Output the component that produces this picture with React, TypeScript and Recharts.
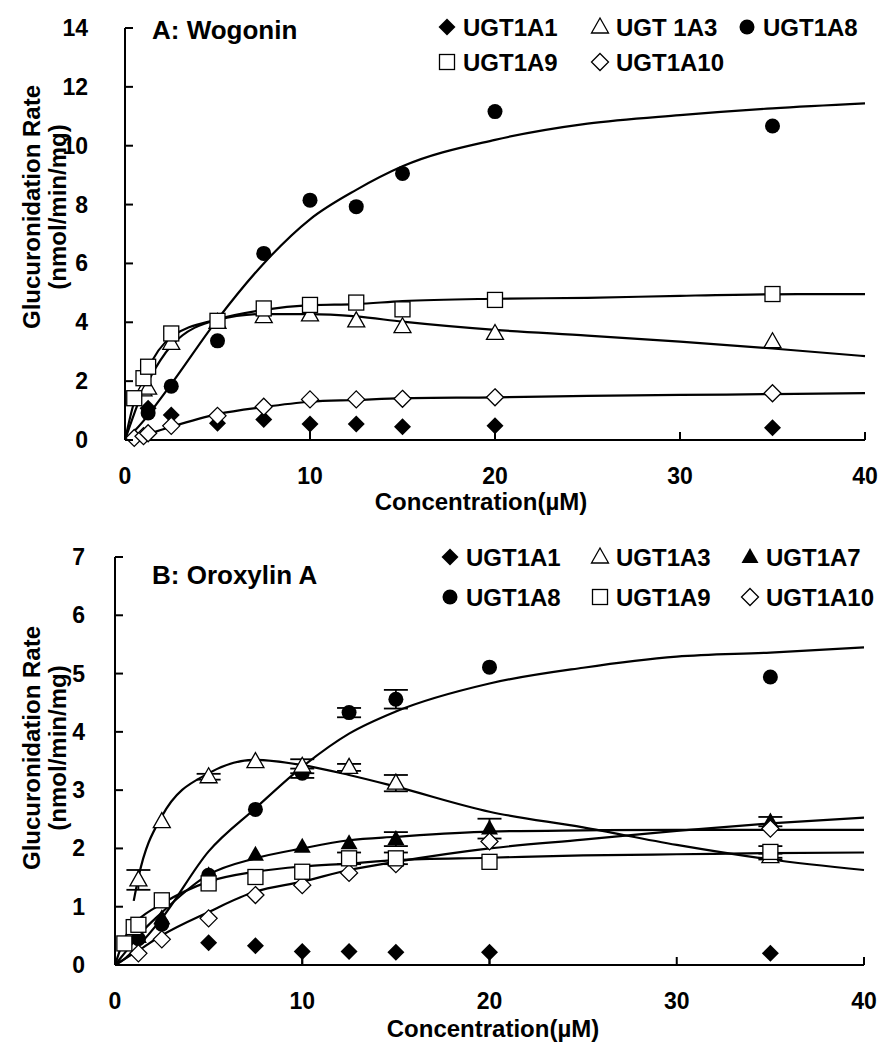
import { ComposedChart, Line, Scatter, XAxis, YAxis, ErrorBar } from 'recharts'

const FONT = '"Liberation Sans", Arial, Helvetica, sans-serif'

// concentrations (µM) of the measured points and of the fitted curves
const conc = [0.5, 1, 1.25, 2.5, 5, 7.5, 10, 12.5, 15, 20, 35]
const fitConc = [0, 0.5, 1, 1.25, 2.5, 5, 7.5, 10, 12.5, 15, 20, 25, 30, 35, 40]
const xTicks = [0, 10, 20, 30, 40]

type Err = number | [number, number] | null

// A: Wogonin
const wogTicks = [0, 2, 4, 6, 8, 10, 12, 14]
const wog1A1 = [null, null, 1.08, 0.85, 0.57, 0.7, 0.54, 0.54, 0.45, 0.48, 0.42]
const wog1A1Err: Err[] = [null, null, null, null, null, null, [0.54, 0], null, null, [0.48, 0], null]
const wog1A3 = [null, 1.7, 1.76, 3.28, 4.0, 4.19, 4.25, 4.05, 3.85, 3.62, 3.34]
const wog1A3Fit = [0, 0.9, 1.7, 2.0, 3.2, 4.08, 4.28, 4.28, 4.2, 4.02, 3.74, 3.55, 3.34, 3.11, 2.85]
const wog1A8 = [null, null, 0.92, 1.83, 3.37, 6.34, 8.15, 7.93, 9.06, 11.16, 10.67]
const wog1A8Fit = [0, 0.3, 0.65, 0.85, 1.9, 4.1, 6.0, 7.5, 8.5, 9.3, 10.2, 10.75, 11.04, 11.27, 11.44]
const wog1A9 = [1.42, 2.1, 2.49, 3.62, 4.05, 4.47, 4.59, 4.67, 4.44, 4.76, 4.96]
const wog1A9Fit = [0, 1.3, 2.0, 2.4, 3.5, 4.1, 4.42, 4.58, 4.62, 4.72, 4.8, 4.83, 4.9, 4.95, 4.96]
const wog1A10 = [0.07, 0.13, 0.23, 0.48, 0.82, 1.13, 1.38, 1.38, 1.4, 1.45, 1.59]
const wog1A10Fit = [0, 0.08, 0.15, 0.2, 0.45, 0.88, 1.12, 1.3, 1.36, 1.42, 1.45, 1.5, 1.53, 1.56, 1.59]

// B: Oroxylin A
const oroTicks = [0, 1, 2, 3, 4, 5, 6, 7]
const oro1A1 = [null, null, null, null, 0.38, 0.33, 0.23, 0.23, 0.22, 0.22, 0.2]
const oro1A1Err: Err[] = [null, null, null, null, null, null, [0.23, 0], null, null, [0.22, 0], null]
const oro1A3 = [null, null, 1.46, 2.46, 3.23, 3.49, 3.41, 3.39, 3.12, null, 1.86]
const oro1A3Err: Err[] = [null, null, 0.17, null, 0.05, null, 0.12, 0.06, 0.14, null, 0.05]
const oro1A3Fit = [null, null, 1.1, 1.5, 2.55, 3.29, 3.52, 3.43, 3.26, 3.06, 2.63, 2.36, 2.06, 1.81, 1.63]
const oro1A7 = [null, null, 0.48, 0.8, 1.54, 1.89, 2.03, 2.09, 2.16, 2.34, 2.46]
const oro1A7Err: Err[] = [null, null, null, null, null, null, null, null, 0.12, 0.17, 0.08]
const oro1A7Fit = [0, 0.2, 0.4, 0.5, 0.9, 1.55, 1.83, 2.0, 2.14, 2.2, 2.29, 2.31, 2.32, 2.32, 2.32]
const oro1A8 = [null, null, 0.45, 0.7, 1.54, 2.67, 3.29, 4.33, 4.56, 5.11, 4.94]
const oro1A8Err: Err[] = [null, null, null, null, null, null, 0.08, 0.08, 0.16, null, null]
const oro1A8Fit = [0, 0.1, 0.25, 0.33, 0.8, 1.95, 2.69, 3.4, 3.97, 4.35, 4.83, 5.1, 5.29, 5.36, 5.45]
const oro1A9 = [0.37, 0.65, 0.69, 1.11, 1.4, 1.51, 1.6, 1.83, 1.83, 1.77, 1.94]
const oro1A9Err: Err[] = [null, null, null, null, null, null, null, 0.1, 0.1, null, 0.1]
const oro1A9Fit = [0, 0.45, 0.7, 0.78, 1.05, 1.43, 1.6, 1.69, 1.74, 1.8, 1.84, 1.88, 1.9, 1.92, 1.93]
const oro1A10 = [null, null, 0.2, 0.44, 0.8, 1.2, 1.37, 1.58, 1.73, 2.12, 2.34]
const oro1A10Fit = [0, 0.1, 0.2, 0.25, 0.51, 0.91, 1.26, 1.43, 1.63, 1.77, 2.0, 2.15, 2.3, 2.43, 2.53]

type Kind = 'diamondFilled' | 'diamond' | 'triangle' | 'triangleFilled' | 'circle' | 'square'

const toPoints = (xs: number[], ys: (number | null)[], errs?: Err[]) =>
  xs
    .map((x, i) => ({ x, y: ys[i], err: errs ? errs[i] : null }))
    .filter((p) => p.y != null)

function Mark({ kind, cx, cy }: { kind: Kind; cx: number; cy: number }) {
  if (cx == null || cy == null) return null
  const sw = 1.3
  const d = 8.5
  switch (kind) {
    case 'diamondFilled':
      return <polygon points={`${cx},${cy - d} ${cx + d},${cy} ${cx},${cy + d} ${cx - d},${cy}`} fill="#000" />
    case 'diamond':
      return (
        <polygon points={`${cx},${cy - d} ${cx + d},${cy} ${cx},${cy + d} ${cx - d},${cy}`} fill="#fff" stroke="#000" strokeWidth={sw} />
      )
    case 'triangle':
      return <polygon points={`${cx},${cy - 9} ${cx + 8.5},${cy + 6} ${cx - 8.5},${cy + 6}`} fill="#fff" stroke="#000" strokeWidth={sw} />
    case 'triangleFilled':
      return <polygon points={`${cx},${cy - 9} ${cx + 8.5},${cy + 6} ${cx - 8.5},${cy + 6}`} fill="#000" />
    case 'circle':
      return <circle cx={cx} cy={cy} r={7.5} fill="#000" />
    default:
      return <rect x={cx - 7.5} y={cy - 7.5} width={15} height={15} fill="#fff" stroke="#000" strokeWidth={sw} />
  }
}

const XTick = (p: any) => (
  <g>
    <line x1={p.x} x2={p.x} y1={p.y} y2={p.y - 8} stroke="#000" strokeWidth={2} />
    <text x={p.x} y={p.y + 36} textAnchor="middle" dominantBaseline="central" fontFamily={FONT} fontWeight="bold" fontSize={23} fill="#000">
      {p.payload.value}
    </text>
  </g>
)

const YTick = (p: any) => (
  <g>
    <line x1={p.x} x2={p.x + 8} y1={p.y} y2={p.y} stroke="#000" strokeWidth={2} />
    <text x={p.x - p.gap} y={p.y} textAnchor="end" dominantBaseline="central" fontFamily={FONT} fontWeight="bold" fontSize={23} fill="#000">
      {p.payload.value}
    </text>
  </g>
)

type Series = { name: string; kind: Kind; values: (number | null)[]; errs?: Err[]; cap?: number; fit?: (number | null)[] }
type LegendItem = { name: string; kind: Kind; x: number; y: number }

function Panel(props: {
  height: number
  margin: { top: number; right: number; bottom: number; left: number }
  yMax: number
  yTicks: number[]
  yGap: number
  series: Series[]
  title: string
  titleY: number
  legend: LegendItem[]
  xTitleX: number
  xTitleY: number
  yTitleY: number
}) {
  const { height, margin, yMax, yTicks, yGap, series, title, titleY, legend, xTitleX, xTitleY, yTitleY } = props
  const txt = { fontFamily: FONT, fontWeight: 'bold' as const, fill: '#000' }
  return (
    <div style={{ position: 'relative', width: 891, height }}>
      <ComposedChart width={891} height={height} margin={margin}>
        <XAxis
          type="number"
          dataKey="x"
          domain={[0, 40]}
          ticks={xTicks}
          interval={0}
          height={40}
          axisLine={{ stroke: '#000', strokeWidth: 2 }}
          tickLine={false}
          tickSize={0}
          tickMargin={0}
          tick={(p: any) => <XTick {...p} />}
        />
        <YAxis
          type="number"
          dataKey="y"
          domain={[0, yMax]}
          ticks={yTicks}
          interval={0}
          width={60}
          axisLine={{ stroke: '#000', strokeWidth: 2 }}
          tickLine={false}
          tickSize={0}
          tickMargin={0}
          tick={(p: any) => <YTick {...p} gap={yGap} />}
        />
        {series
          .filter((s) => s.fit)
          .map((s) => (
            <Line
              key={'fit' + s.name}
              data={toPoints(fitConc, s.fit as (number | null)[])}
              dataKey="y"
              type="monotone"
              stroke="#000"
              strokeWidth={2.2}
              dot={false}
              activeDot={false}
              legendType="none"
              isAnimationActive={false}
            />
          ))}
        {series.map((s) => (
          <Scatter
            key={'pts' + s.name}
            name={s.name}
            data={toPoints(conc, s.values, s.errs)}
            dataKey="y"
            isAnimationActive={false}
            shape={(p: any) => <Mark kind={s.kind} cx={p.cx} cy={p.cy} />}
          >
            {s.errs && <ErrorBar dataKey="err" direction="y" width={s.cap ?? 12} stroke="#000" strokeWidth={1.8} />}
          </Scatter>
        ))}
      </ComposedChart>
      <svg width={891} height={height} style={{ position: 'absolute', left: 0, top: 0, pointerEvents: 'none' }}>
        <text x={152} y={titleY} dominantBaseline="central" fontSize={26} {...txt}>
          {title}
        </text>
        {legend.map((l) => (
          <g key={l.name}>
            <Mark kind={l.kind} cx={l.x} cy={l.y} />
            <text x={l.x + 16} y={l.y} dominantBaseline="central" fontSize={24} {...txt}>
              {l.name}
            </text>
          </g>
        ))}
        <text x={xTitleX} y={xTitleY} textAnchor="middle" dominantBaseline="central" fontSize={24} {...txt}>
          Concentration(µM)
        </text>
        <text transform={`translate(31, ${yTitleY}) rotate(-90)`} textAnchor="middle" dominantBaseline="central" fontSize={24} {...txt}>
          Glucuronidation Rate
        </text>
        <text transform={`translate(57, ${yTitleY}) rotate(-90)`} textAnchor="middle" dominantBaseline="central" fontSize={24} {...txt}>
          (nmol/min/mg)
        </text>
      </svg>
    </div>
  )
}

const wogSeries: Series[] = [
  { name: 'UGT1A1', kind: 'diamondFilled', values: wog1A1, errs: wog1A1Err, cap: 0 },
  { name: 'UGT 1A3', kind: 'triangle', values: wog1A3, fit: wog1A3Fit },
  { name: 'UGT1A9', kind: 'square', values: wog1A9, fit: wog1A9Fit },
  { name: 'UGT1A10', kind: 'diamond', values: wog1A10, fit: wog1A10Fit },
  { name: 'UGT1A8', kind: 'circle', values: wog1A8, fit: wog1A8Fit }
]

const oroSeries: Series[] = [
  { name: 'UGT1A1', kind: 'diamondFilled', values: oro1A1, errs: oro1A1Err, cap: 0 },
  { name: 'UGT1A8', kind: 'circle', values: oro1A8, errs: oro1A8Err, fit: oro1A8Fit },
  { name: 'UGT1A7', kind: 'triangleFilled', values: oro1A7, errs: oro1A7Err, fit: oro1A7Fit },
  { name: 'UGT1A3', kind: 'triangle', values: oro1A3, errs: oro1A3Err, fit: oro1A3Fit },
  { name: 'UGT1A10', kind: 'diamond', values: oro1A10, fit: oro1A10Fit },
  { name: 'UGT1A9', kind: 'square', values: oro1A9, errs: oro1A9Err, fit: oro1A9Fit }
]

const wogLegend: LegendItem[] = [
  { name: 'UGT1A1', kind: 'diamondFilled', x: 447, y: 27 },
  { name: 'UGT 1A3', kind: 'triangle', x: 600, y: 27 },
  { name: 'UGT1A8', kind: 'circle', x: 747, y: 27 },
  { name: 'UGT1A9', kind: 'square', x: 447, y: 62 },
  { name: 'UGT1A10', kind: 'diamond', x: 600, y: 62 }
]

const oroLegend: LegendItem[] = [
  { name: 'UGT1A1', kind: 'diamondFilled', x: 450, y: 37 },
  { name: 'UGT1A3', kind: 'triangle', x: 600, y: 37 },
  { name: 'UGT1A7', kind: 'triangleFilled', x: 750, y: 37 },
  { name: 'UGT1A8', kind: 'circle', x: 450, y: 77 },
  { name: 'UGT1A9', kind: 'square', x: 600, y: 77 },
  { name: 'UGT1A10', kind: 'diamond', x: 750, y: 77 }
]

export default function App() {
  return (
    <div style={{ position: 'absolute', left: 0, top: 0, width: 891, height: 1050, background: '#fff' }}>
      <Panel
        height={520}
        margin={{ top: 28, right: 26, bottom: 40, left: 65 }}
        yMax={14}
        yTicks={wogTicks}
        yGap={37}
        series={wogSeries}
        title="A: Wogonin"
        titleY={30}
        legend={wogLegend}
        xTitleX={481}
        xTitleY={501}
        yTitleY={207}
      />
      <Panel
        height={530}
        margin={{ top: 37, right: 27, bottom: 45, left: 55 }}
        yMax={7}
        yTicks={oroTicks}
        yGap={30}
        series={oroSeries}
        title="B: Oroxylin A"
        titleY={55}
        legend={oroLegend}
        xTitleX={493}
        xTitleY={508}
        yTitleY={228}
      />
    </div>
  )
}
